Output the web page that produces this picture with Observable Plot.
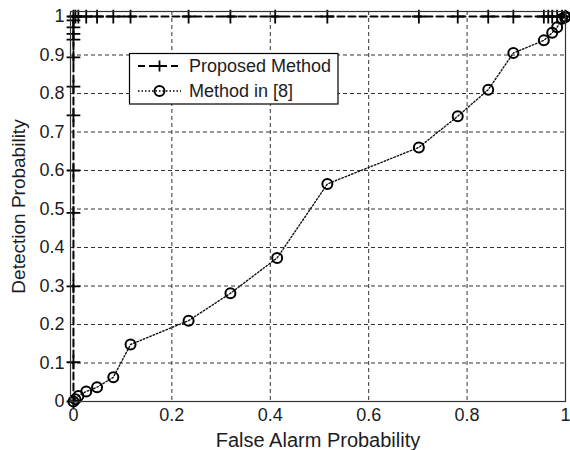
<!DOCTYPE html>
<html>
<head>
<meta charset="utf-8">
<script src="https://cdn.jsdelivr.net/npm/d3@7"></script>
<script src="https://cdn.jsdelivr.net/npm/@observablehq/plot@0.6"></script>
<style>
  html, body { margin: 0; padding: 0; background: #fff; }
  #chart { position: relative; width: 570px; height: 450px; }
</style>
</head>
<body>
<div id="chart"></div>
<script>
// Method in [8]
const faMethod8 = [0, 0.004, 0.01, 0.026, 0.048, 0.081, 0.116, 0.234, 0.319, 0.414, 0.516, 0.702, 0.781, 0.843, 0.894, 0.956, 0.973, 0.983, 0.993, 0.999, 1];
const pdMethod8 = [0, 0.006, 0.014, 0.026, 0.037, 0.063, 0.148, 0.21, 0.281, 0.373, 0.565, 0.66, 0.741, 0.81, 0.905, 0.938, 0.958, 0.972, 0.994, 0.998, 1];

// Proposed method
const faProposed = [0, 0, 0, 0, 0, 0, 0, 0, 0, 0, 0, 0, 0, 0.004, 0.01, 0.026, 0.048, 0.081, 0.116, 0.234, 0.319, 0.41, 0.516, 0.702, 0.781, 0.843, 0.894, 0.956, 0.965, 0.973, 0.983, 0.993, 1];
const pdProposed = [0, 0.102, 0.299, 0.49, 0.6, 0.743, 0.818, 0.894, 0.94, 0.955, 0.972, 0.99, 1, 1, 1, 1, 1, 1, 1, 1, 1, 1, 1, 1, 1, 1, 1, 1, 1, 1, 1, 1, 1];

const xTicks = [0, 0.2, 0.4, 0.6, 0.8, 1];
const xTickLabels = ["0", "0.2", "0.4", "0.6", "0.8", "1"];
const yTicks = [0, 0.1, 0.2, 0.3, 0.4, 0.5, 0.6, 0.7, 0.8, 0.9, 1];
const yTickLabels = ["0", "0.1", "0.2", "0.3", "0.4", "0.5", "0.6", "0.7", "0.8", "0.9", "1"];

const seriesNames = ["Proposed Method", "Method in [8]"];
const xLabel = "False Alarm Probability";
const yLabel = "Detection Probability";

const proposed = faProposed.map((x, i) => ({x, y: pdProposed[i]}));
const method8 = faMethod8.map((x, i) => ({x, y: pdMethod8[i]}));

const font = "'Liberation Sans', Arial, sans-serif";
const ink = "#1c1c24";

const plot = Plot.plot({
  width: 570,
  height: 450,
  marginLeft: 70,
  marginRight: 5,
  marginTop: 11,
  marginBottom: 49,
  style: {fontFamily: font, fontSize: "18px", color: ink, background: "#fff"},
  x: {domain: [-0.006, 1]},
  y: {domain: [0, 1.013]},
  marks: [
    Plot.ruleX(xTicks.slice(1, -1), {stroke: "#333", strokeWidth: 1, strokeDasharray: "4,3"}),
    Plot.ruleY(yTicks.slice(1, -1), {stroke: "#333", strokeWidth: 1, strokeDasharray: "4,3"}),
    Plot.axisX({ticks: xTicks, tickFormat: (d, i) => xTickLabels[i], tickSize: 0, tickPadding: 7, fontSize: 18, label: null}),
    Plot.axisX({ticks: [], label: xLabel, labelAnchor: "center", labelArrow: "none", labelOffset: 45, fontSize: 20}),
    Plot.axisY({ticks: yTicks, tickFormat: (d, i) => yTickLabels[i], tickSize: 0, tickPadding: 6, fontSize: 18, label: null}),
    Plot.axisY({ticks: [], label: yLabel, labelAnchor: "center", labelArrow: "none", labelOffset: 59, fontSize: 19}),
    Plot.line(method8, {x: "x", y: "y", stroke: "#111", strokeWidth: 1.4, strokeDasharray: "1.5,2"}),
    Plot.dot(method8, {x: "x", y: "y", r: 5, stroke: "#000", strokeWidth: 2, fill: "none"}),
    Plot.line(proposed, {x: "x", y: "y", stroke: "#000", strokeWidth: 2, strokeDasharray: "7,4"}),
    Plot.dot(proposed, {x: "x", y: "y", r: 4.5, symbol: "plus", stroke: "#000", strokeWidth: 1.8}),
    Plot.frame({stroke: "#333", strokeWidth: 1.2})
  ]
});

// Legend drawn into the SVG
const svg = d3.select(plot);
const lg = svg.append("g").attr("font-family", font).attr("font-size", 18).attr("fill", ink).attr("text-anchor", "start");
lg.append("rect").attr("x", 129.5).attr("y", 53.5).attr("width", 208.5).attr("height", 50.5)
  .attr("fill", "#fff").attr("stroke", "#000").attr("stroke-width", 1.2);
const rows = [
  {name: seriesNames[0], y: 66, dash: "7,4", w: 2, sym: "plus"},
  {name: seriesNames[1], y: 91, dash: "1.5,2", w: 1.4, sym: "circle"}
];
for (const r of rows) {
  lg.append("line").attr("x1", 138).attr("x2", 181).attr("y1", r.y).attr("y2", r.y)
    .attr("stroke", "#000").attr("stroke-width", r.w).attr("stroke-dasharray", r.dash);
  if (r.sym === "plus") {
    lg.append("path").attr("d", `M${159.5 - 5.5},${r.y}h11M159.5,${r.y - 5.5}v11`)
      .attr("stroke", "#000").attr("stroke-width", 1.8).attr("fill", "none");
  } else {
    lg.append("circle").attr("cx", 159.5).attr("cy", r.y).attr("r", 5)
      .attr("stroke", "#000").attr("stroke-width", 2).attr("fill", "none");
  }
  lg.append("text").attr("x", 189).attr("y", r.y).attr("dy", "0.35em").attr("text-anchor", "start").text(r.name);
}

document.getElementById("chart").appendChild(plot);
</script>
</body>
</html>
